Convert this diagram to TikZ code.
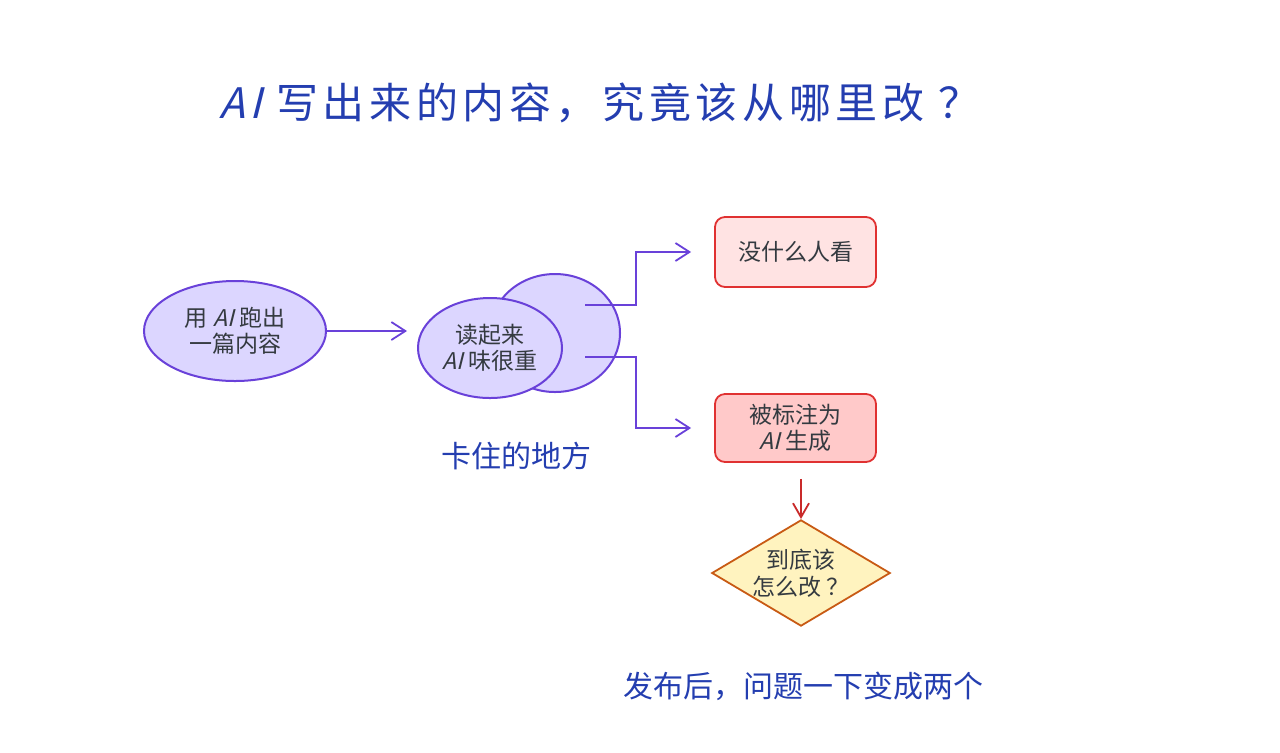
\documentclass[tikz,border=0pt]{standalone}
\usepackage{fontspec}
\setmainfont{Noto Sans CJK SC}
\newfontfamily\slantcjk[FakeSlant=0.25]{Noto Sans CJK SC}
\newfontfamily\titlecjk[LetterSpace=11]{Noto Sans CJK SC}
\newfontfamily\titleslant[LetterSpace=11,FakeSlant=0.25]{Noto Sans CJK SC}
\usetikzlibrary{shapes.geometric,arrows.meta}
\definecolor{noteblue}{RGB}{36,62,176}
\definecolor{violetline}{RGB}{105,65,217}
\definecolor{violetfill}{RGB}{220,214,255}
\definecolor{inkgray}{RGB}{52,58,64}
\definecolor{redline}{RGB}{224,49,49}
\definecolor{palered}{RGB}{255,227,227}
\definecolor{softred}{RGB}{255,201,201}
\definecolor{darkred}{RGB}{201,42,42}
\definecolor{cream}{RGB}{255,243,191}
\definecolor{rust}{RGB}{200,90,20}
\newcommand\aitext{{\slantcjk AI}}
\tikzstyle{bubble} = [ellipse, draw=violetline, fill=violetfill, line width=1pt, text=inkgray, align=center, inner sep=0pt, font=\fontsize{11.5}{13}\selectfont]
\tikzstyle{card} = [rectangle, rounded corners=5pt, draw=redline, line width=0.9pt, text=inkgray, align=center, minimum width=80.5pt, font=\fontsize{11.5}{13}\selectfont]
\tikzstyle{choice} = [diamond, aspect=1.68, draw=rust, fill=cream, line width=0.9pt, text=inkgray, align=center, inner sep=0pt, minimum width=84pt, minimum height=50pt, font=\fontsize{11.5}{13.5}\selectfont]
\tikzstyle{flow} = [draw=violetline, line width=0.9pt, -{Straight Barb[length=7pt,width=9pt]}]
\tikzstyle{alarm} = [draw=darkred, line width=0.9pt, -{Straight Barb[length=7pt,width=8pt]}]
\tikzstyle{note} = [text=noteblue, font=\fontsize{15}{18}\selectfont]

\begin{document}
\begin{tikzpicture}[x=0.5pt, y=-0.5pt]
            \useasboundingbox (0,0) rectangle (1280,752);

            \node (title) [text=noteblue, font=\fontsize{21}{25}\titlecjk] at (600,103) {{\titleslant AI} 写出来的内容，究竟该从哪里改 ？};

            \node (src) [bubble, minimum width=91pt, minimum height=50pt] at (235,331) {用 \aitext{} 跑出\\一篇内容};
            \node (stuckback) [bubble, minimum width=65pt, minimum height=59pt] at (555,333) {};
            \node (stuck) [bubble, minimum width=72pt, minimum height=50pt] at (490,348) {读起来\\\aitext{} 味很重};
            \node (stuckcap) [note] at (516,456) {卡住的地方};

            \node (seen) [card, fill=palered, minimum height=35pt] at (795.5,252) {没什么人看};
            \node (flagged) [card, fill=softred, minimum height=34pt] at (795.5,428) {被标注为\\\aitext{} 生成};
            \node (fix) [choice] at (801,573) {到底该\\怎么改 ？};
            \node (aftercap) [note] at (803,686) {发布后，问题一下变成两个};

            \coordinate (upout) at (585,305);
            \coordinate (downout) at (585,357);

            \draw [flow, shorten >=5pt] (src.east) -- (src.east -| stuck.west);
            \draw [flow, shorten >=11.5pt] (upout) -- ++(51,0) |- (seen.west);
            \draw [flow, shorten >=11.5pt] (downout) -- ++(51,0) |- (flagged.west);
            \draw [alarm, shorten <=8pt] (flagged.south -| fix.north) -- (fix.north);
        \end{tikzpicture}
\end{document}
